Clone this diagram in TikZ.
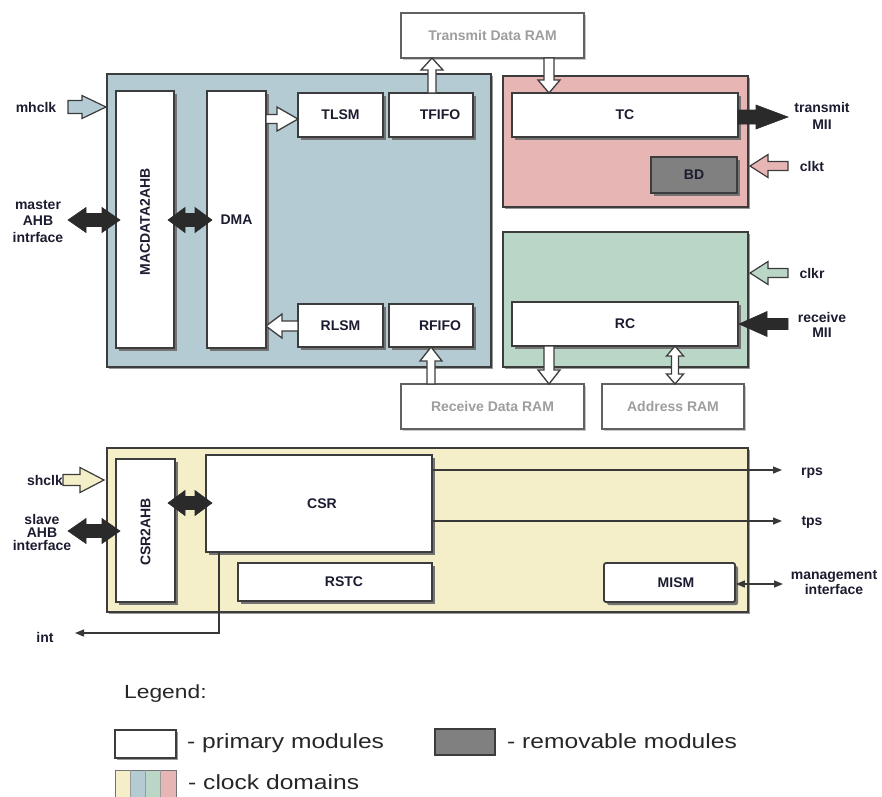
\documentclass[tikz,border=0pt]{standalone}
\usepackage{fontspec}
\setmainfont{Liberation Sans}
\newfontfamily\legfont[FakeStretch=1.2]{Liberation Sans}
\usetikzlibrary{shadows,arrows.meta}
\definecolor{blueD}{HTML}{B4CBD4}
\definecolor{pinkD}{HTML}{E8B5B5}
\definecolor{greenD}{HTML}{B9D6C6}
\definecolor{yellowD}{HTML}{F4EFC8}
\definecolor{bdgray}{HTML}{808080}
\definecolor{bord}{HTML}{3C3C3C}
\definecolor{ink}{HTML}{1C1C30}
\definecolor{blk}{HTML}{2A2A2A}
\newcommand{\SArr}[7]{%
  \begin{scope}[shift={(#2)}, rotate=#3]
  \draw[#1] (0,-#5) -- ({#4-#7},-#5) -- ({#4-#7},-#6) -- (#4,0) -- ({#4-#7},#6) -- ({#4-#7},#5) -- (0,#5) -- cycle;
  \end{scope}}
\newcommand{\DArr}[7]{%
  \begin{scope}[shift={(#2)}, rotate=#3]
  \draw[#1] (0,0) -- (#7,-#6) -- (#7,-#5) -- ({#4-#7},-#5) -- ({#4-#7},-#6) -- (#4,0) -- ({#4-#7},#6) -- ({#4-#7},#5) -- (#7,#5) -- (#7,#6) -- cycle;
  \end{scope}}
\begin{document}
\begin{tikzpicture}[x=1pt,y=-1pt,
  lbl/.style={font=\bfseries\fontsize{14}{16}\selectfont, text=ink, inner sep=0pt, align=center},
  dom/.style={draw=bord, line width=2pt, drop shadow={shadow xshift=2pt,shadow yshift=-2pt,fill=black!40,opacity=1}},
  mod/.style={draw=bord, line width=1.8pt, fill=white, inner sep=0pt,
    drop shadow={shadow xshift=3pt,shadow yshift=-3pt,fill=black!55,opacity=1},
    font=\bfseries\fontsize{14}{16}\selectfont, text=ink},
  ram/.style={draw=black!62, line width=1.2pt, fill=white, inner sep=0pt,
    drop shadow={shadow xshift=2pt,shadow yshift=-2pt,fill=black!22,opacity=1},
    font=\bfseries\fontsize{14}{16}\selectfont, text=black!38},
  hol/.style={draw=bord, line width=1.3pt, fill=white, line join=miter},
  blka/.style={fill=blk, draw=blk, line width=0.6pt},
  thinarr/.style={draw=black!78, line width=1.3pt, -{Triangle[length=9pt,width=7pt]}},
  legtxt/.style={font=\legfont\fontsize{20.5}{22}\selectfont, text=black!85, inner sep=0pt, anchor=west}
]
\useasboundingbox (0,0) rectangle (882,796);

% clock domains
\node[dom, fill=blueD, minimum width=384pt, minimum height=293pt] (macd) at (299,220.5) {};
\node[dom, fill=pinkD, minimum width=245pt, minimum height=131pt] (txd) at (625.5,141.5) {};
\node[dom, fill=greenD, minimum width=245pt, minimum height=135pt] (rxd) at (625.5,299.5) {};
\node[dom, fill=yellowD, minimum width=641pt, minimum height=164pt] (csrd) at (427.5,530) {};

% modules
\node[mod, minimum width=58pt, minimum height=257pt] (mac) at (145,219.5) {};
\node[lbl, rotate=90] at (145,222) {MACDATA2AHB};
\node[mod, minimum width=59pt, minimum height=257pt] (dma) at (236.5,219.5) {DMA};
\node[mod, minimum width=85pt, minimum height=44pt] (tlsm) at (340.5,115) {TLSM};
\node[mod, minimum width=84pt, minimum height=44pt] (tfifo) at (431,115) {\hspace*{18pt}TFIFO};
\node[mod, minimum width=85pt, minimum height=43pt] (rlsm) at (340.5,325.5) {RLSM};
\node[mod, minimum width=84pt, minimum height=43pt] (rfifo) at (431,325.5) {\hspace*{18pt}RFIFO};
\node[mod, minimum width=226pt, minimum height=44pt] (tc) at (625,115) {TC};
\node[mod, fill=bdgray, minimum width=86pt, minimum height=36pt] (bd) at (694,175) {BD};
\node[mod, minimum width=226pt, minimum height=44pt] (rc) at (625,324) {RC};
\node[mod, minimum width=59pt, minimum height=143pt] (csr2ahb) at (145.5,530.5) {};
\node[lbl, rotate=90] at (145.5,532) {CSR2AHB};
\node[mod, minimum width=226pt, minimum height=97pt] (csr) at (319,503.5) {\hspace*{6pt}CSR};
\node[mod, minimum width=194pt, minimum height=38pt] (rstc) at (335,582) {\hspace*{18pt}RSTC};
\node[mod, rounded corners=2pt, minimum width=131pt, minimum height=39pt] (mism) at (669.5,582.5) {\hspace*{13pt}MISM};

% RAMs
\node[ram, minimum width=183pt, minimum height=45pt] (txram) at (492.5,35.5) {Transmit Data RAM};
\node[ram, minimum width=183pt, minimum height=45pt] (rxram) at (492.5,406.5) {Receive Data RAM};
\node[ram, minimum width=142pt, minimum height=45pt] (addrram) at (673,406.5) {Address RAM};

% external labels
\node[lbl] (mhclk) at (36,107) {mhclk};
\node[lbl, font=\bfseries\fontsize{14}{16.5}\selectfont] (mahb) at (38,221) {master\\AHB\\intrface};
\node[lbl] (shclk) at (45,480) {shclk};
\node[lbl, font=\bfseries\fontsize{14}{13}\selectfont] (sahb) at (42,532) {slave\\AHB\\interface};
\node[lbl] (int) at (45,637) {int};
\node[lbl, font=\bfseries\fontsize{14}{17}\selectfont] (tmii) at (822,116) {transmit\\MII};
\node[lbl] (clkt) at (812,166) {clkt};
\node[lbl] (clkr) at (812,273) {clkr};
\node[lbl, font=\bfseries\fontsize{14}{15}\selectfont] (rmii) at (822,325) {receive\\MII};
\node[lbl] (rps) at (812,473) {rps};
\node[lbl] (tps) at (812,522) {tps};
\node[lbl, font=\bfseries\fontsize{14}{15}\selectfont] (mgmt) at (834,582) {management\\interface};

% clock input arrows
\SArr{draw=bord, line width=1.2pt, fill=blueD}{68,107}{0}{38}{6.5}{11.5}{24}
\SArr{draw=bord, line width=1.2pt, fill=yellowD}{63,480}{0}{41}{5.5}{12.5}{24}
\SArr{draw=bord, line width=1.2pt, fill=pinkD}{788,166}{180}{38}{4.5}{11.5}{18}
\SArr{draw=bord, line width=1.2pt, fill=greenD}{788,273}{180}{38}{4.5}{11.5}{18}

% black data arrows
\SArr{blka}{738,117}{0}{50}{7}{12}{32}
\SArr{blka}{788,324}{180}{49}{5.5}{12.5}{28}
\DArr{blka}{68,220}{0}{52}{6.5}{12.5}{18}
\DArr{blka}{168,220}{0}{44}{6.5}{12.5}{17}
\DArr{blka}{68,531}{0}{52}{6.5}{12.5}{18}
\DArr{blka}{168,503}{0}{44}{6.5}{12.5}{17}

% hollow arrows
\SArr{hol}{266,119}{0}{32}{4.5}{12}{21}
\SArr{hol}{298,326}{180}{32}{5}{12}{16}
\SArr{hol}{432,93}{90}{35}{4}{11}{12}
\SArr{hol}{549,58}{-90}{35}{5}{11}{13}
\SArr{hol}{431,384}{90}{37}{4}{11}{14}
\SArr{hol}{549,346}{-90}{38}{5}{11}{14}
\DArr{hol}{675,346}{-90}{38}{3.5}{8.5}{10}

% thin signal arrows
\coordinate (rpsE) at (782,470);
\coordinate (tpsE) at (782,521);
\coordinate (mgE) at (783,584);
\coordinate (intE) at (75,633);
\draw[thinarr] (csr.east |- rpsE) -- (rpsE);
\draw[thinarr] (csr.east |- tpsE) -- (tpsE);
\draw[thinarr, {Triangle[length=9pt,width=7pt]}-{Triangle[length=9pt,width=7pt]}] (mism.east |- mgE) -- (mgE);
\draw[thinarr] (csr.south -| 219,0) |- (intE);

% legend
\node[legtxt, font=\legfont\fontsize{19}{20}\selectfont] (leg) at (124,694) {Legend:};
\node[draw=bord, line width=1.8pt, fill=white, minimum width=61pt, minimum height=28pt,
  drop shadow={shadow xshift=1.5pt,shadow yshift=-1.5pt,fill=black!40,opacity=1}] (lprim) at (145.5,744) {};
\node[legtxt] (tprim) at (187,743) {- primary modules};
\node[draw=bord, line width=1.5pt, fill=bdgray, minimum width=60pt, minimum height=26pt] (lrem) at (465,742) {};
\node[legtxt] (trem) at (507,741) {- removable modules};
\fill[yellowD] (115,770) rectangle (130.25,797);
\fill[blueD] (130.25,770) rectangle (145.5,797);
\fill[greenD] (145.5,770) rectangle (160.75,797);
\fill[pinkD] (160.75,770) rectangle (176,797);
\draw[black!55, line width=1pt] (115,797) -- (115,770) -- (176,770) -- (176,797);
\draw[black!40, line width=0.8pt] (130.25,770) -- (130.25,797) (145.5,770) -- (145.5,797) (160.75,770) -- (160.75,797);
\node[legtxt] (tclk) at (188,782) {- clock domains};
\end{tikzpicture}
\end{document}
